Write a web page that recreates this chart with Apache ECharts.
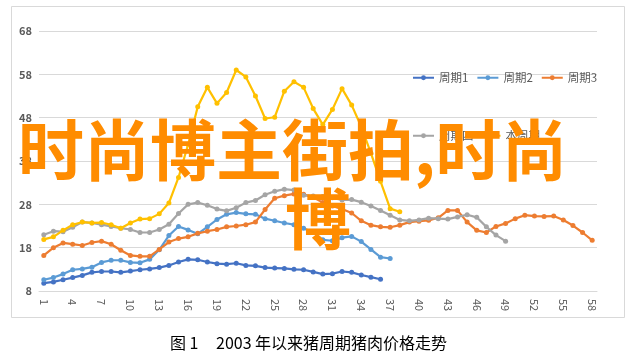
<!DOCTYPE html>
<html>
<head>
<meta charset="utf-8">
<script src="https://cdn.jsdelivr.net/npm/echarts@6/dist/echarts.min.js"></script>
<style>
html,body{margin:0;padding:0;background:#fff;}
#c{width:634px;height:358px;}
</style>
</head>
<body>
<div id="c"></div>
<script>
var categories = ['1','2','3','4','5','6','7','8','9','10','11','12','13','14','15','16','17','18','19','20',
  '21','22','23','24','25','26','27','28','29','30','31','32','33','34','35','36','37','38','39','40',
  '41','42','43','44','45','46','47','48','49','50','51','52','53','54','55','56','57','58'];
var yTicks = [8, 18, 28, 38, 48, 58, 68];
var seriesNames = ['周期1', '周期2', '周期3', '周期四', '本周期'];
var cycle1 = [9.8,10.1,10.6,11.1,11.6,12.3,12.5,12.5,12.3,12.6,12.9,13.1,13.4,13.9,14.7,15.3,15.2,14.7,14.3,14.2,
  14.4,13.9,13.8,13.4,13.3,13.2,13.0,12.9,12.4,11.9,12.0,12.5,12.3,11.7,11.2,10.7];
var cycle2 = [10.6,11.1,11.9,12.9,13.1,13.5,14.6,15.1,15.1,14.6,14.5,15.3,17.5,20.8,22.9,22.1,21.2,22.8,24.5,25.7,
  26.1,25.8,25.7,24.7,24.2,23.7,23.3,22.5,21.5,19.8,19.6,20.3,20.6,19.4,17.6,15.8,15.5];
var cycle3 = [16.2,18.0,19.1,18.8,18.5,19.2,19.5,18.8,17.4,16.2,16.0,16.0,17.6,19.3,20.1,20.5,21.3,21.8,22.2,22.8,
  23.0,23.3,23.9,26.8,29.4,30.0,30.4,30.3,29.6,28.4,27.6,26.9,26.0,24.2,23.2,22.8,22.7,23.2,23.9,24.1,
  24.3,24.9,26.6,26.6,23.9,22.0,21.5,22.9,23.6,24.7,25.5,25.3,25.2,25.3,24.4,23.1,21.5,19.7];
var cycle4 = [21.0,21.8,21.7,22.7,23.9,23.7,23.3,22.9,22.5,22.2,21.5,21.5,22.2,23.4,25.9,28.0,28.4,27.8,26.9,26.5,
  27.2,28.4,28.9,30.2,31.0,31.5,31.3,30.1,29.9,29.8,29.5,29.0,29.1,28.5,27.6,26.6,25.5,24.4,24.2,24.4,
  24.8,24.7,24.6,25.1,25.6,25.0,22.8,20.9,19.5];
var current = [19.9,20.5,22.0,23.3,23.9,23.7,23.8,23.3,22.5,23.7,24.6,24.7,25.8,28.3,34.2,41.8,50.5,55.0,51.3,53.8,
  59.0,57.4,53.0,47.8,48.1,54.1,56.3,55.0,50.1,46.4,49.9,54.7,50.9,45.9,39.8,33.3,27.0,26.3];
var colors = ['#4472C4', '#5B9BD5', '#ED7D31', '#A5A5A5', '#FFC000'];
var allData = [cycle1, cycle2, cycle3, cycle4, current];

var chart = echarts.init(document.getElementById('c'), null, {renderer: 'canvas'});
var font = '"Noto Sans CJK SC", "Noto Sans", sans-serif';

var series = seriesNames.map(function (n, i) {
  return {
    name: n,
    type: 'line',
    data: allData[i],
    symbol: 'circle',
    symbolSize: 5,
    color: colors[i],
    lineStyle: {width: 2.2, color: colors[i]},
    itemStyle: {color: colors[i]},
    z: 2 + i
  };
});

var legendText = {color: '#595959', fontSize: 11.5, fontFamily: font};
chart.setOption({
  animation: false,
  backgroundColor: '#fff',
  grid: {left: 39, right: 37, top: 31, bottom: 67, containLabel: false},
  legend: [
    {data: ['周期1', '周期2', '周期3'], left: 407, top: 67, itemWidth: 21, itemHeight: 6, itemGap: 8, textStyle: legendText},
    {data: ['周期四', '本周期'], left: 407, top: 125, itemWidth: 21, itemHeight: 6, itemGap: 5, textStyle: legendText}
  ],
  xAxis: {
    type: 'category',
    data: categories,
    boundaryGap: true,
    axisLine: {lineStyle: {color: '#d9d9d9', width: 1}},
    axisTick: {show: false},
    axisLabel: {interval: 2, rotate: -90, color: '#595959', fontSize: 11, fontFamily: font, margin: 8}
  },
  yAxis: {
    type: 'value',
    min: 8,
    max: 68,
    axisLine: {show: false},
    axisTick: {show: false, customValues: yTicks},
    axisLabel: {customValues: yTicks, color: '#595959', fontSize: 11, fontWeight: 'bold', fontFamily: font, margin: 7},
    splitLine: {lineStyle: {color: '#d9d9d9', width: 1}}
  },
  series: series,
  graphic: [
    {type: 'rect', shape: {x: 11.5, y: 6.5, width: 613, height: 311}, style: {fill: 'none', stroke: '#d9d9d9', lineWidth: 1}, z: 0, silent: true},
    {type: 'text', left: 170, top: 335, style: {text: '图 1', fontSize: 16, fontFamily: font, fill: '#000'}},
    {type: 'text', left: 216, top: 335, style: {text: '2003 年以来猪周期猪肉价格走势', fontSize: 16, fontFamily: font, fill: '#000'}},
    {type: 'text', left: 18, top: 117, z: 100, style: {text: '时尚博主街拍,时尚', fontSize: 66, fontWeight: 'bold', fontFamily: font, fill: '#FF8C00'}},
    {type: 'text', left: 285, top: 186, z: 100, style: {text: '博', fontSize: 66, fontWeight: 'bold', fontFamily: font, fill: '#FF8C00'}}
  ]
});
</script>
</body>
</html>
